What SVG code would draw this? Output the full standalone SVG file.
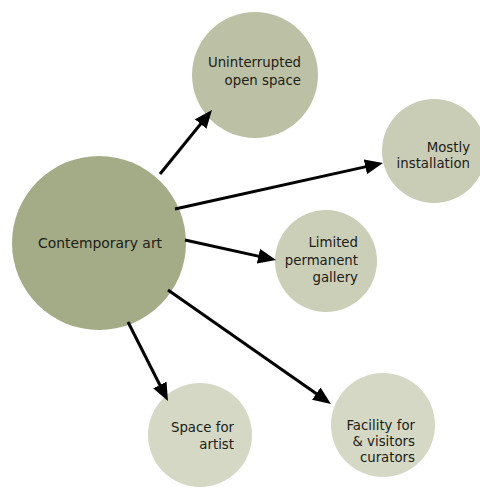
<svg xmlns="http://www.w3.org/2000/svg" width="480" height="489" viewBox="0 0 480 489">
<defs>
<style>
.lbl{font-family:"DejaVu Sans","Liberation Sans",sans-serif;font-size:13.3px;fill:#1c2016}
.r{text-anchor:end}
.m{text-anchor:middle}
.edge{stroke:#000;stroke-width:3;fill:none;marker-end:url(#ah)}
</style>
<marker id="ah" viewBox="0 0 18 15" refX="9" refY="7.5" markerWidth="18" markerHeight="15" markerUnits="userSpaceOnUse" orient="auto">
<path d="M0,0 L18,7.5 L0,15 z" fill="#000"/>
</marker>
</defs>
<rect width="480" height="489" fill="#ffffff"/>
<g id="n-main">
<circle cx="99" cy="243" r="87" fill="#a3ab87"/>
<text class="lbl m" x="100" y="248" style="font-size:13.9px">Contemporary art</text>
</g>
<g id="n-open">
<circle cx="255" cy="75" r="63" fill="#bcc1a5"/>
<text class="lbl r" x="301" y="67">Uninterrupted</text>
<text class="lbl r" x="301" y="85">open space</text>
</g>
<g id="n-install">
<circle cx="434" cy="151" r="52" fill="#c9cdb6"/>
<text class="lbl r" x="470" y="152">Mostly</text>
<text class="lbl r" x="470" y="168">installation</text>
</g>
<g id="n-gallery">
<circle cx="326" cy="261" r="51" fill="#cbcfb8"/>
<text class="lbl r" x="358" y="247">Limited</text>
<text class="lbl r" x="358" y="265">permanent</text>
<text class="lbl r" x="358" y="282">gallery</text>
</g>
<g id="n-artist">
<circle cx="200" cy="435" r="52" fill="#d5d8c5"/>
<text class="lbl r" x="234" y="432">Space for</text>
<text class="lbl r" x="234" y="449">artist</text>
</g>
<g id="n-facility">
<circle cx="383" cy="425" r="52" fill="#d5d8c5"/>
<text class="lbl r" x="415" y="430">Facility for</text>
<text class="lbl r" x="415" y="446">&amp; visitors</text>
<text class="lbl r" x="415" y="462">curators</text>
</g>
<g id="edges">
<line class="edge" x1="160" y1="174" x2="206.3" y2="117"/>
<line class="edge" x1="175" y1="209" x2="374.2" y2="164.9"/>
<line class="edge" x1="185" y1="240" x2="267.2" y2="258.1"/>
<line class="edge" x1="128" y1="322" x2="163.9" y2="393"/>
<line class="edge" x1="168" y1="290" x2="323.6" y2="398.8"/>
</g>
</svg>
